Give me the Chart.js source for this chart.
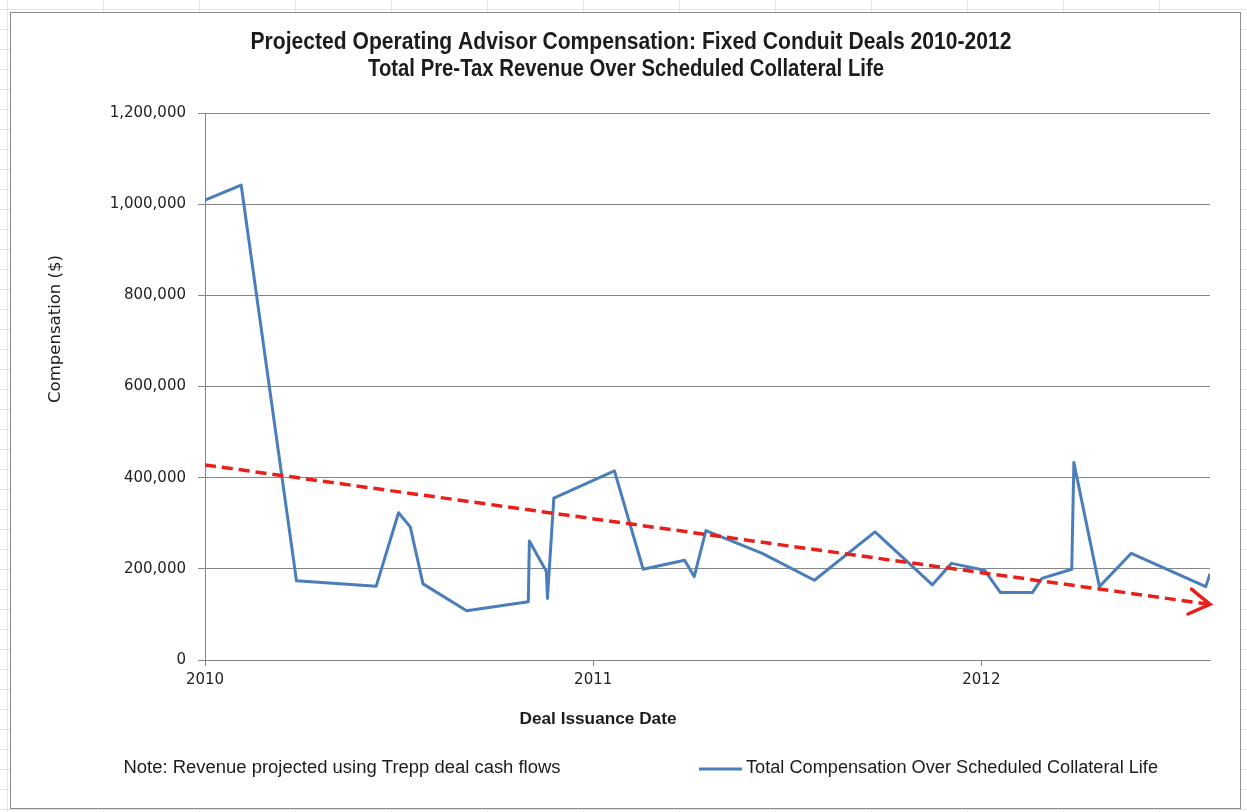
<!DOCTYPE html>
<html>
<head>
<meta charset="utf-8">
<title>Projected Operating Advisor Compensation</title>
<script src="https://cdn.jsdelivr.net/npm/chart.js@4.4.1/dist/chart.umd.min.js"></script>
<style>
  html, body { margin: 0; padding: 0; }
  body {
    width: 1247px; height: 812px; position: relative; overflow: hidden; background-color: #fff;
    background-image: linear-gradient(to right, #e4e4e4 1px, transparent 1px),
                      linear-gradient(to bottom, #e4e4e4 1px, transparent 1px);
    background-size: 96px 100%, 100% 20px;
    background-position: 7px 0, 0 9px;
  }
  .frame { position: absolute; left: 10px; top: 12px; width: 1229px; height: 795px; border: 1px solid #8c8c8c; background: #fff; }
  canvas { position: absolute; left: 0; top: 0; }
</style>
</head>
<body>
<div class="frame"></div>
<canvas id="compChart" width="1247" height="812"></canvas>
<script>
// deal issuance dates and total compensation per deal
const dealDates = [
  "2010-01-01", "2010-02-04", "2010-03-28", "2010-06-11", "2010-07-02", "2010-07-13",
  "2010-07-25", "2010-09-04", "2010-11-01", "2010-11-02", "2010-11-18", "2010-11-19",
  "2010-11-25", "2011-01-21", "2011-02-17", "2011-03-28", "2011-04-06", "2011-04-17",
  "2011-06-09", "2011-07-28", "2011-09-23", "2011-11-16", "2011-12-04", "2012-01-04",
  "2012-01-19", "2012-02-18", "2012-02-27", "2012-03-26", "2012-03-28", "2012-04-21",
  "2012-05-21", "2012-07-30", "2012-08-03",
];
const compensation = [
  1009000, 1042000, 174000, 162000, 323000, 292000,
  167000, 108000, 128000, 261000, 194000, 135000,
  355000, 415000, 199000, 219000, 183000, 284000,
  234000, 175000, 281000, 165000, 212000, 197000,
  148000, 148000, 179000, 199000, 433000, 161000,
  234000, 161000, 189000,
];

// linear trend line (start / end)
const trendDates = ["2010-01-01", "2012-08-03"];
const trendValues = [428000, 122000];

const yearTicks = ["2010", "2011", "2012"];

const seriesLabel = "Total Compensation Over Scheduled Collateral Life";
const chartTitle = [
  "Projected Operating Advisor Compensation: Fixed Conduit Deals 2010-2012",
  "Total Pre-Tax Revenue Over Scheduled Collateral Life",
];
const xTitle = "Deal Issuance Date";
const yTitle = "Compensation ($)";
const noteText = "Note: Revenue projected using Trepp deal cash flows";

function toTime(d) {
  const [y, m, day] = d.split("-").map(Number);
  return Date.UTC(y, m - 1, day);
}

const sansFont = "'Liberation Sans', Arial, sans-serif";
const tickFont = "'DejaVu Sans', Verdana, sans-serif";
const gridGray = "#868686";
const blue = "#4a7ebb";
const red = "#e8201c";

// draw text squeezed/stretched to a given width (Excel's Calibri is not available)
function drawFitted(ctx, text, cx, cy, width, font, color) {
  ctx.save();
  ctx.font = font;
  ctx.fillStyle = color;
  ctx.textAlign = "center";
  ctx.textBaseline = "middle";
  const natural = ctx.measureText(text).width;
  ctx.translate(cx, cy);
  ctx.scale(width / natural, 1);
  ctx.fillText(text, 0, 0);
  ctx.restore();
}

const decorations = {
  id: "decorations",
  afterDatasetsDraw(chart) {
    // arrow head at the end of the trend line
    const ctx = chart.ctx;
    const pts = chart.getDatasetMeta(1).data;
    const a = pts[pts.length - 2];
    const b = pts[pts.length - 1];
    const ang = Math.atan2(b.y - a.y, b.x - a.x);
    const len = 24;
    ctx.save();
    ctx.strokeStyle = red;
    ctx.lineWidth = 3.5;
    ctx.lineCap = "round";
    ctx.lineJoin = "miter";
    ctx.beginPath();
    ctx.moveTo(b.x - len * Math.cos(ang - 0.55), b.y - len * Math.sin(ang - 0.55));
    ctx.lineTo(b.x, b.y);
    ctx.lineTo(b.x - len * Math.cos(ang + 0.55), b.y - len * Math.sin(ang + 0.55));
    ctx.stroke();
    ctx.restore();
  },
  afterDraw(chart) {
    const ctx = chart.ctx;
    const dark = "#1c1c1c";

    drawFitted(ctx, chartTitle[0], 631, 43, 761, "bold 23px " + sansFont, dark);
    drawFitted(ctx, chartTitle[1], 626, 70, 516, "bold 23px " + sansFont, dark);

    drawFitted(ctx, xTitle, 598, 720, 157, "bold 16px " + sansFont, dark);

    ctx.save();
    ctx.translate(56, 329);
    ctx.rotate(-Math.PI / 2);
    drawFitted(ctx, yTitle, 0, 0, 148, "15px " + tickFont, dark);
    ctx.restore();

    drawFitted(ctx, noteText, 342, 768, 437, "18px " + sansFont, dark);

    // legend
    ctx.save();
    ctx.strokeStyle = blue;
    ctx.lineWidth = 3;
    ctx.beginPath();
    ctx.moveTo(699, 769);
    ctx.lineTo(742, 769);
    ctx.stroke();
    ctx.restore();
    drawFitted(ctx, seriesLabel, 952, 768, 412, "18px " + sansFont, dark);
  },
};

const ctx = document.getElementById("compChart").getContext("2d");
const chart = new Chart(ctx, {
  type: "line",
  data: {
    datasets: [
      {
        label: seriesLabel,
        data: dealDates.map((d, i) => ({ x: toTime(d), y: compensation[i] })),
        borderColor: blue,
        borderWidth: 3,
        borderJoinStyle: "round",
        pointRadius: 0,
        tension: 0,
        order: 2,
      },
      {
        label: "Linear trend",
        data: trendDates.map((d, i) => ({ x: toTime(d), y: trendValues[i] })),
        borderColor: red,
        borderWidth: 3.5,
        borderDash: [11, 6],
        pointRadius: 0,
        order: 1,
      },
    ],
  },
  options: {
    responsive: false,
    animation: false,
    devicePixelRatio: 1,
    layout: { padding: { left: 0, right: 37, top: 113, bottom: 112 } },
    plugins: {
      legend: { display: false },
      title: { display: false },
      tooltip: { enabled: false },
    },
    scales: {
      x: {
        type: "linear",
        min: toTime(dealDates[0]),
        max: toTime(dealDates[dealDates.length - 1]),
        afterBuildTicks: (scale) => {
          scale.ticks = yearTicks.map((y) => ({ value: Date.UTC(Number(y), 0, 1) }));
        },
        afterFit: (scale) => {
          scale.height = 40;
        },
        grid: { drawOnChartArea: false, drawTicks: true, tickLength: 6, color: gridGray },
        border: { display: true, color: gridGray, width: 1 },
        ticks: {
          autoSkip: false,
          maxRotation: 0,
          padding: 5,
          color: "#222",
          font: { family: tickFont, size: 15 },
          callback: (value) => String(new Date(value).getUTCFullYear()),
        },
      },
      y: {
        min: 0,
        max: 1200000,
        afterFit: (scale) => {
          scale.width = 205;
        },
        grid: { color: gridGray, lineWidth: 1, tickLength: 7 },
        border: { display: true, color: gridGray, width: 1 },
        ticks: {
          stepSize: 200000,
          padding: 12,
          color: "#222",
          font: { family: tickFont, size: 15 },
          callback: (value) => value.toLocaleString("en-US"),
        },
      },
    },
  },
  plugins: [decorations],
});
</script>
</body>
</html>
